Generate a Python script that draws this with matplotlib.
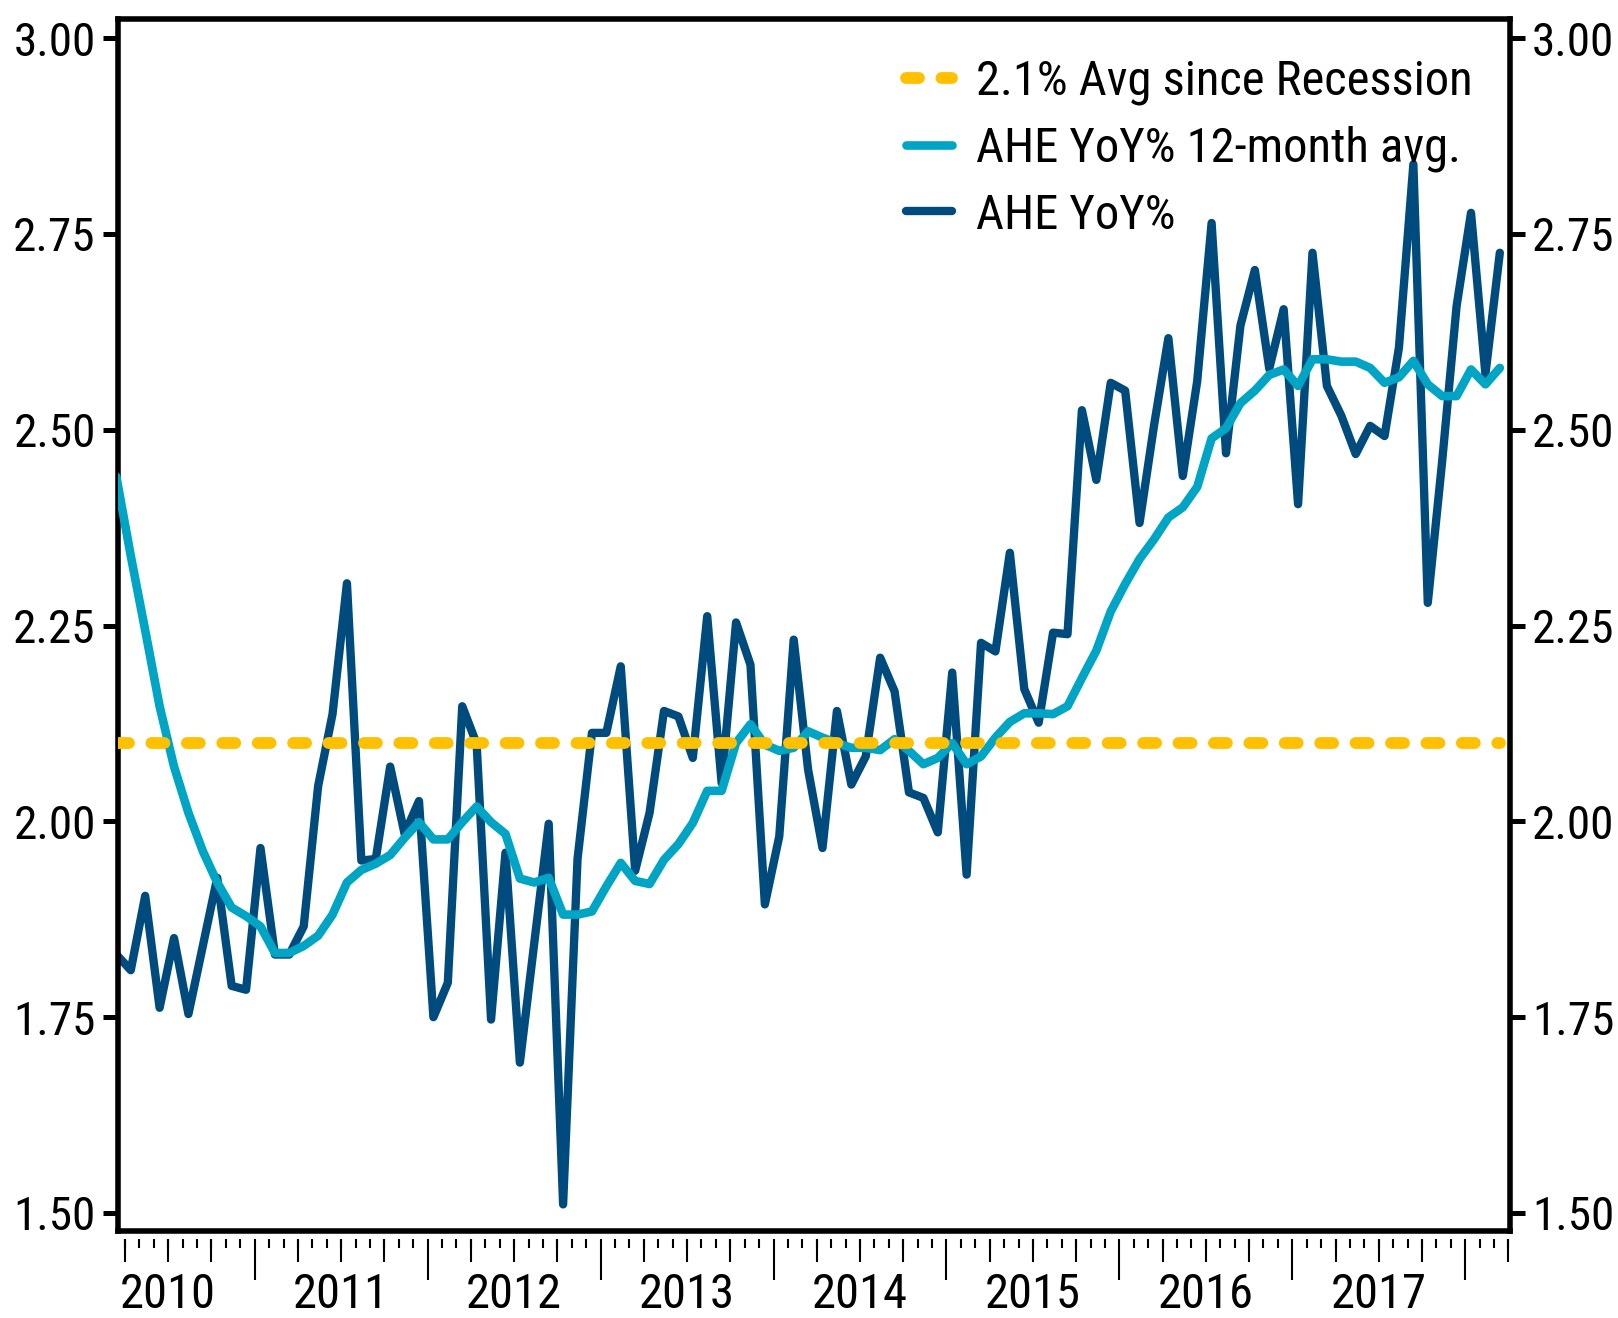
import numpy as np
import pandas as pd
import matplotlib
matplotlib.use("Agg")
import matplotlib.pyplot as plt
from matplotlib import font_manager

# condensed sans, closest to the narrow face of the original
names = {f.name for f in font_manager.fontManager.ttflist}
for cand in ["Roboto Condensed", "Pragati Narrow", "Archivo Narrow", "Liberation Sans"]:
    if cand in names:
        main_font = cand
        break
plt.rcParams["font.family"] = [main_font, "DejaVu Sans"]

# monthly data, Mar 2010 - Mar 2018
months = pd.period_range("2010-03", "2018-03", freq="M")

ahe_yoy = [
    1.83,
    1.81, 1.905, 1.762, 1.851, 1.754, 1.841, 1.928, 1.790, 1.785, 1.966, 1.830, 1.830,
    1.866, 2.045, 2.137, 2.304, 1.950, 1.952, 2.070, 1.984, 2.026, 1.750, 1.794, 2.147,
    2.099, 1.747, 1.960, 1.692, 1.845, 1.997, 1.511, 1.952, 2.113, 2.113, 2.198, 1.937,
    2.011, 2.141, 2.134, 2.081, 2.262, 2.049, 2.254, 2.200, 1.894, 1.981, 2.232, 2.066,
    1.966, 2.141, 2.047, 2.083, 2.209, 2.166, 2.037, 2.030, 1.986, 2.190, 1.932, 2.228,
    2.217, 2.343, 2.169, 2.126, 2.241, 2.239, 2.525, 2.436, 2.560, 2.550, 2.381, 2.505,
    2.617, 2.441, 2.562, 2.764, 2.470, 2.633, 2.704, 2.578, 2.654, 2.405, 2.726, 2.556,
    2.518, 2.469, 2.505, 2.492, 2.605, 2.839, 2.279, 2.460, 2.658, 2.777, 2.571, 2.726,
]

ahe_12m = [
    2.44,
    2.339, 2.244, 2.147, 2.070, 2.011, 1.962, 1.922, 1.890, 1.879, 1.866, 1.832, 1.832,
    1.841, 1.854, 1.881, 1.922, 1.938, 1.946, 1.957, 1.979, 1.999, 1.977, 1.977, 1.999,
    2.019, 1.999, 1.984, 1.927, 1.922, 1.928, 1.881, 1.881, 1.885, 1.917, 1.947, 1.924,
    1.920, 1.951, 1.971, 1.998, 2.039, 2.039, 2.100, 2.124, 2.098, 2.090, 2.094, 2.115,
    2.107, 2.100, 2.094, 2.094, 2.091, 2.105, 2.090, 2.073, 2.081, 2.100, 2.073, 2.083,
    2.107, 2.127, 2.138, 2.138, 2.137, 2.147, 2.183, 2.218, 2.268, 2.303, 2.335, 2.360,
    2.388, 2.401, 2.427, 2.489, 2.502, 2.534, 2.550, 2.570, 2.577, 2.556, 2.590, 2.590,
    2.587, 2.587, 2.579, 2.560, 2.567, 2.588, 2.558, 2.543, 2.543, 2.577, 2.558, 2.579,
]

avg_since_recession = 2.1
years = list(range(2010, 2018))

# x in months since Jan 2010, points sit mid-month
x = (months.year - 2010) * 12 + months.month - 1 + 0.4

dark = "#004B7D"
cyan = "#00A4C5"
gold = "#FFC000"

fig = plt.figure(figsize=(16.18, 13.18), dpi=100)
ax = fig.add_axes([0.0729, 0.066, 0.8603, 0.9199])

ax.plot(x, ahe_yoy, color=dark, lw=6.0, solid_joinstyle="round", solid_capstyle="round",
        label="AHE YoY%", zorder=2)
ax.plot(x, ahe_12m, color=cyan, lw=6.2, solid_joinstyle="round", solid_capstyle="round",
        label="AHE YoY% 12-month avg.", zorder=3)
ax.plot(x, [avg_since_recession] * len(x), color=gold, lw=8.5, dashes=(1.1, 1.9),
        dash_capstyle="round", label="2.1% Avg since Recession", zorder=4)

ax.set_xlim(2.51, 99.1)
ax.set_ylim(1.477, 3.025)
ax.set_yticks(np.arange(1.5, 3.01, 0.25))
ax.yaxis.set_major_formatter(plt.FormatStrFormatter("%.2f"))
ax.tick_params(axis="y", which="both", left=True, right=True, labelleft=True, labelright=True,
               direction="out", length=11, width=3.6, pad=5, labelsize=34)
ax.tick_params(axis="x", bottom=False, top=False, labelbottom=False)
for s in ax.spines.values():
    s.set_linewidth(4)

# bottom ticks: months, quarters, years on offset secondary axes
loc = -0.0066
year_starts = [(y - 2010) * 12 for y in range(2011, 2019)]
month_ticks = np.arange(3, 100)
quarter_ticks = [m for m in month_ticks if m % 3 == 0 and m % 12 != 0]
mid_years = [(y - 2010) * 12 + 6 for y in years]

sec = ax.secondary_xaxis(loc)
sec.set_xticks(year_starts)
sec.set_xticks(month_ticks, minor=True)
sec.tick_params(which="major", length=29.5, width=1.5, labelbottom=False)
sec.tick_params(which="minor", length=6.5, width=1.5)

sec_q = ax.secondary_xaxis(loc)
sec_q.set_xticks(quarter_ticks)
sec_q.tick_params(length=16.5, width=1.5, labelbottom=False)

sec_y = ax.secondary_xaxis(loc)
sec_y.set_xticks(mid_years, labels=[str(y) for y in years])
sec_y.tick_params(length=0, pad=24, labelsize=35)

for a in (sec, sec_q, sec_y):
    for s in a.spines.values():
        s.set_visible(False)

h, l = ax.get_legend_handles_labels()
ax.legend(h[::-1], l[::-1], loc="upper right", bbox_to_anchor=(0.998, 0.995), frameon=False,
          fontsize=35, handlelength=0.95, handletextpad=0.5, labelspacing=0.42,
          borderaxespad=0.3)

fig.savefig("out.png", dpi=100)
